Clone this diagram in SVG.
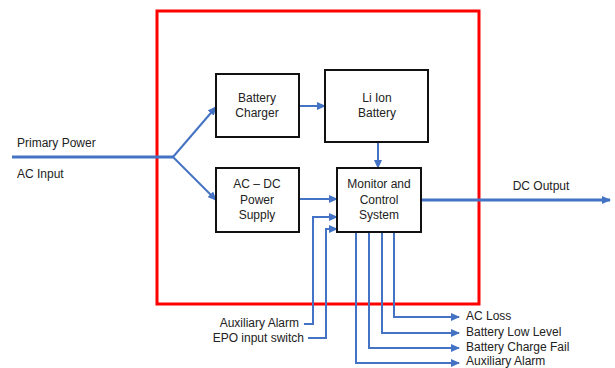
<svg xmlns="http://www.w3.org/2000/svg" width="615" height="368" viewBox="0 0 615 368">
<style>
text{font-family:"Liberation Sans",Arial,sans-serif;font-size:12px;fill:#222}
.c{text-anchor:middle}
.r{text-anchor:end}
.box{fill:#fff;stroke:#111;stroke-width:2}
.ln{fill:none;stroke:#4472C4;stroke-width:2}
.thk{fill:none;stroke:#4472C4;stroke-width:3}
</style>
<defs>
<marker id="a" markerUnits="userSpaceOnUse" markerWidth="9" markerHeight="8" refX="8" refY="4" orient="auto"><path d="M0,0 L9,4 L0,8 Z" fill="#4472C4"/></marker>
</defs>
<rect id="enclosure" x="157" y="11" width="322" height="293" fill="none" stroke="#FF0000" stroke-width="3"/>
<g id="connectors">
<path class="thk" d="M12,157 H173"/>
<path class="ln" d="M173,157 L216,107" marker-end="url(#a)"/>
<path class="ln" d="M173,157 L216,200" marker-end="url(#a)"/>
<path class="ln" d="M299,106 H325" marker-end="url(#a)"/>
<path class="ln" d="M378,142 V168" marker-end="url(#a)"/>
<path class="ln" d="M299,199 H337" marker-end="url(#a)"/>
<path class="thk" d="M421,200 H610" marker-end="url(#a)"/>
<path class="ln" d="M304,324 H313 V217 H337" marker-end="url(#a)"/>
<path class="ln" d="M308,338 H326 V229 H337" marker-end="url(#a)"/>
<path class="ln" d="M394,232 V317 H459" marker-end="url(#a)"/>
<path class="ln" d="M382,232 V333 H459" marker-end="url(#a)"/>
<path class="ln" d="M369,232 V348 H459" marker-end="url(#a)"/>
<path class="ln" d="M356,232 V363 H459" marker-end="url(#a)"/>
</g>
<g id="charger"><rect class="box" x="216" y="74" width="83" height="63"/><text class="c" x="257" y="102">Battery</text><text class="c" x="257" y="117">Charger</text></g>
<g id="battery"><rect class="box" x="325" y="70" width="103" height="72"/><text class="c" x="377" y="102">Li Ion</text><text class="c" x="377" y="117">Battery</text></g>
<g id="acdc"><rect class="box" x="216" y="168" width="83" height="64"/><text class="c" x="257" y="188">AC – DC</text><text class="c" x="257" y="204">Power</text><text class="c" x="257" y="219">Supply</text></g>
<g id="monitor"><rect class="box" x="337" y="168" width="84" height="64"/><text class="c" x="379" y="188">Monitor and</text><text class="c" x="379" y="204">Control</text><text class="c" x="379" y="219">System</text></g>
<g id="labels">
<text x="17" y="147">Primary Power</text>
<text x="17" y="178">AC Input</text>
<text class="c" x="541" y="190">DC Output</text>
<text class="r" x="299" y="327">Auxiliary Alarm</text>
<text class="r" x="304" y="342">EPO input switch</text>
<text x="466" y="320">AC Loss</text>
<text x="466" y="336">Battery Low Level</text>
<text x="466" y="351">Battery Charge Fail</text>
<text x="466" y="365">Auxiliary Alarm</text>
</g>
</svg>
